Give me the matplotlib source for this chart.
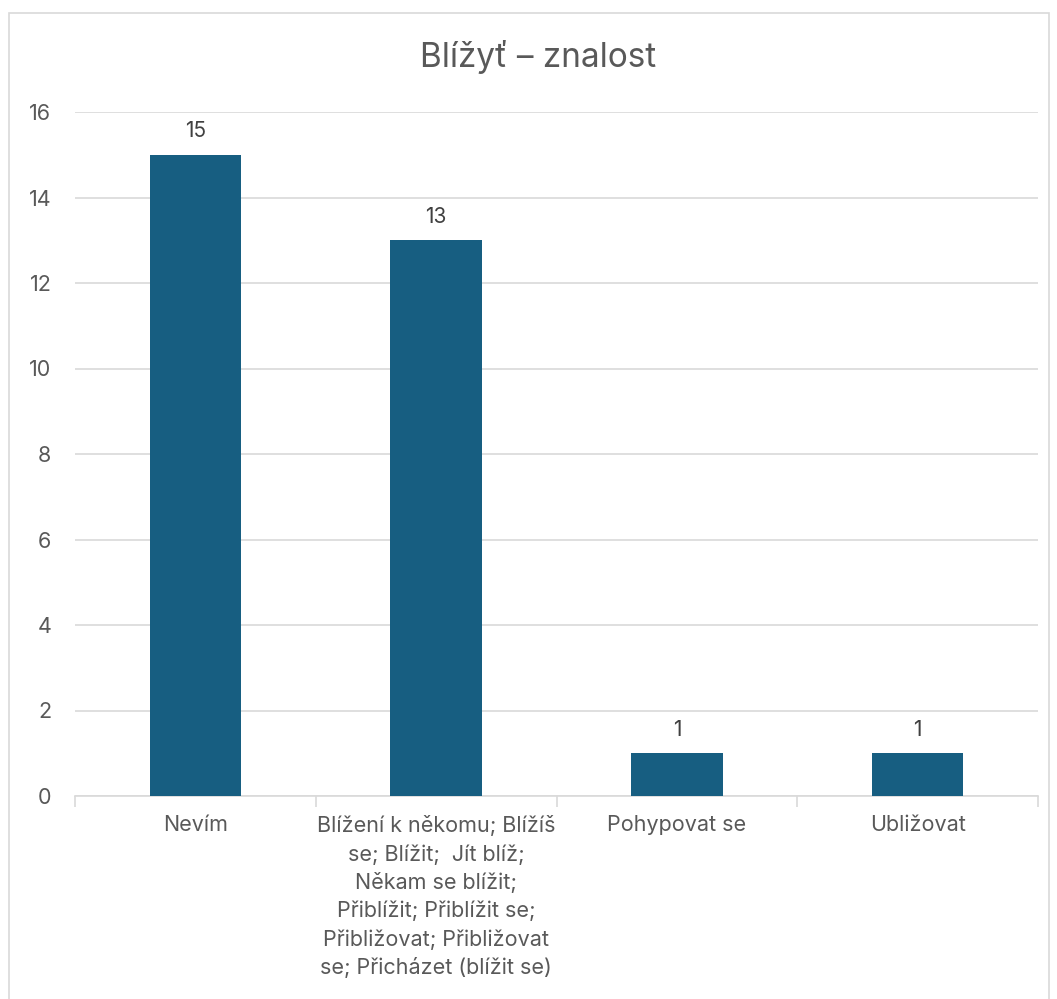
import matplotlib.pyplot as plt
from matplotlib.patches import Rectangle

categories = [
    "Nevím",
    "Blížení k někomu; Blížíš\nse; Blížit;  Jít blíž;\nNěkam se blížit;\nPřiblížit; Přiblížit se;\nPřibližovat; Přibližovat\nse; Přicházet (blížit se)",
    "Pohypovat se",
    "Ubližovat",
]
counts = [15, 13, 1, 1]
title = "Blížyť – znalost"

plt.rcParams['font.family'] = ['Inter', 'DejaVu Sans']
grey = '#595959'
bar_color = '#175E81'

fig = plt.figure(figsize=(10.57, 9.99), dpi=100)
ax = fig.add_axes([75 / 1057, 1 - 796 / 999, (1038 - 75) / 1057, (796 - 112) / 999])

# chart border
fig.patches.append(Rectangle((9 / 1057, -0.05), 1040 / 1057, 1.05 - 13 / 999,
                             transform=fig.transFigure, fill=False,
                             edgecolor='#d9d9d9', linewidth=1.2))

x = range(len(categories))
bars = ax.bar(x, counts, width=0.38, color=bar_color, zorder=3)
for b, v in zip(bars, counts):
    ax.text(b.get_x() + b.get_width() / 2, v + 0.32, str(v), ha='center',
            va='bottom', fontsize=15, color='#404040')

ax.set_xlim(-0.5, len(categories) - 0.5)
ax.set_ylim(0, 16)
ax.set_yticks(range(0, 17, 2))
ax.yaxis.grid(True, color='#d9d9d9', linewidth=1.2, zorder=0)
ax.tick_params(axis='y', length=0, labelsize=15.5, labelcolor=grey, pad=17)

ax.set_xticks(list(x))
ax.set_xticklabels(categories, fontsize=15.5, color=grey, linespacing=1.46)
ax.tick_params(axis='x', which='major', length=0, pad=14)
ax.set_xticks([i - 0.5 for i in range(len(categories) + 1)], minor=True)
ax.tick_params(axis='x', which='minor', length=8, color='#d9d9d9', width=1.2)

for s in ['top', 'right', 'left']:
    ax.spines[s].set_visible(False)
ax.spines['bottom'].set_color('#d9d9d9')
ax.spines['bottom'].set_linewidth(1.2)

fig.text(538 / 1057, 1 - 57 / 999, title, ha='center', va='center',
         fontsize=24, color=grey)

fig.savefig('out.png', dpi=100)
